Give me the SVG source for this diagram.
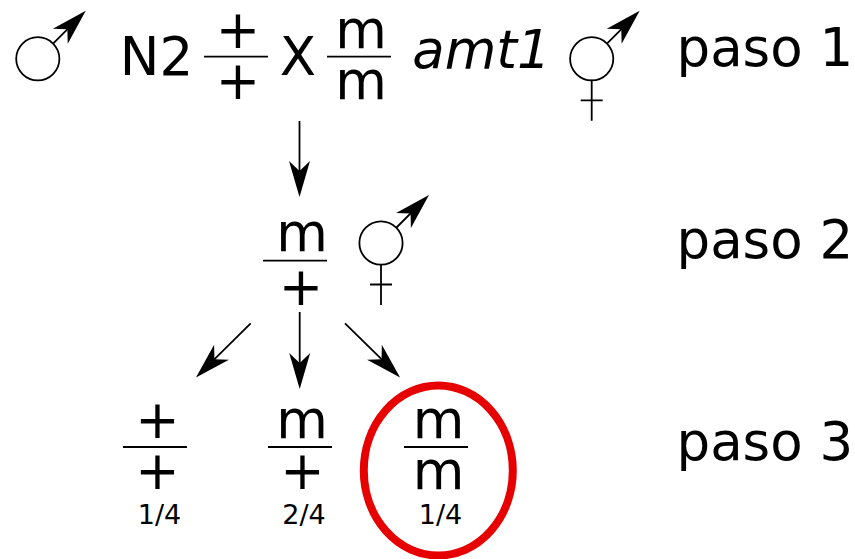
<svg xmlns="http://www.w3.org/2000/svg" width="855" height="559" viewBox="0 0 855 559">
<style>
text{font-family:"DejaVu Sans",sans-serif;font-size:53px;fill:#000;text-anchor:middle}
.s{text-anchor:start}
.i{font-style:italic}
.f{font-size:27px}
.b{stroke:#000;stroke-width:1.800;fill:none}
.c{stroke:#000;stroke-width:1.800;fill:#fff}
.a{stroke:#000;stroke-width:1.800;fill:none;marker-end:url(#h)}
</style>
<defs>
<marker id="h" markerUnits="userSpaceOnUse" markerWidth="40" markerHeight="24" refX="12" refY="12" orient="auto" overflow="visible"><path d="M0,1.500 L36,12 L0,22.500 L10,12 Z" fill="#000"/></marker>
<g id="male"><circle class="c" r="21.600"/><line class="a" x1="15.500" y1="-15.500" x2="31" y2="-31"/></g>
<g id="herm"><use href="#male"/><path class="b" d="M0,21 V62 M-11,41.500 H11"/></g>
</defs>
<rect width="855" height="559" fill="#fff"/>
<g id="connectors">
<line class="a" x1="299.500" y1="121" x2="299.500" y2="173"/>
<line class="a" x1="299.700" y1="312" x2="299.700" y2="365"/>
<line class="a" x1="250.700" y1="323.300" x2="213" y2="360.700"/>
<line class="a" x1="345" y1="323.300" x2="383" y2="360.700"/>
</g>
<g id="male-1"><use href="#male" x="37.800" y="58.800"/></g>
<g id="cross">
<text x="156.500" y="74.800">N2</text>
<text x="238" y="47.500">+</text><line class="b" x1="204" y1="56.700" x2="268" y2="56.700"/><text x="238" y="98.500">+</text>
<text x="298" y="75">X</text>
<text x="361" y="47.500">m</text><line class="b" x1="327" y1="56.700" x2="391" y2="56.700"/><text x="361" y="98.500">m</text>
<text class="i" x="481.500" y="68">amt1</text>
</g>
<g id="herm-1"><use href="#herm" x="591.700" y="58.800"/></g>
<g id="step-1"><text class="s" x="676.500" y="66">paso 1</text></g>
<g id="f1"><text x="302" y="251">m</text><line class="b" x1="263" y1="260.700" x2="327" y2="260.700"/><text x="301" y="305">+</text></g>
<g id="herm-2"><use href="#herm" x="381" y="243"/></g>
<g id="step-2"><text class="s" x="676.500" y="258">paso 2</text></g>
<g id="genotype-pp"><text x="157.500" y="437.500">+</text><line class="b" x1="123" y1="447" x2="187" y2="447"/><text x="157.500" y="489">+</text><text class="f" x="159.500" y="524">1/4</text></g>
<g id="genotype-mp"><text x="302" y="438">m</text><line class="b" x1="268" y1="447" x2="332" y2="447"/><text x="302.500" y="489">+</text><text class="f" x="304" y="524">2/4</text></g>
<g id="genotype-mm"><ellipse cx="438.300" cy="470.500" rx="74.500" ry="85" fill="none" stroke="#e60000" stroke-width="8"/><text x="438.500" y="438">m</text><line class="b" x1="404" y1="447" x2="468" y2="447"/><text x="438.500" y="489">m</text><text class="f" x="440.500" y="524">1/4</text></g>
<g id="step-3"><text class="s" x="676.500" y="460">paso 3</text></g>
</svg>
